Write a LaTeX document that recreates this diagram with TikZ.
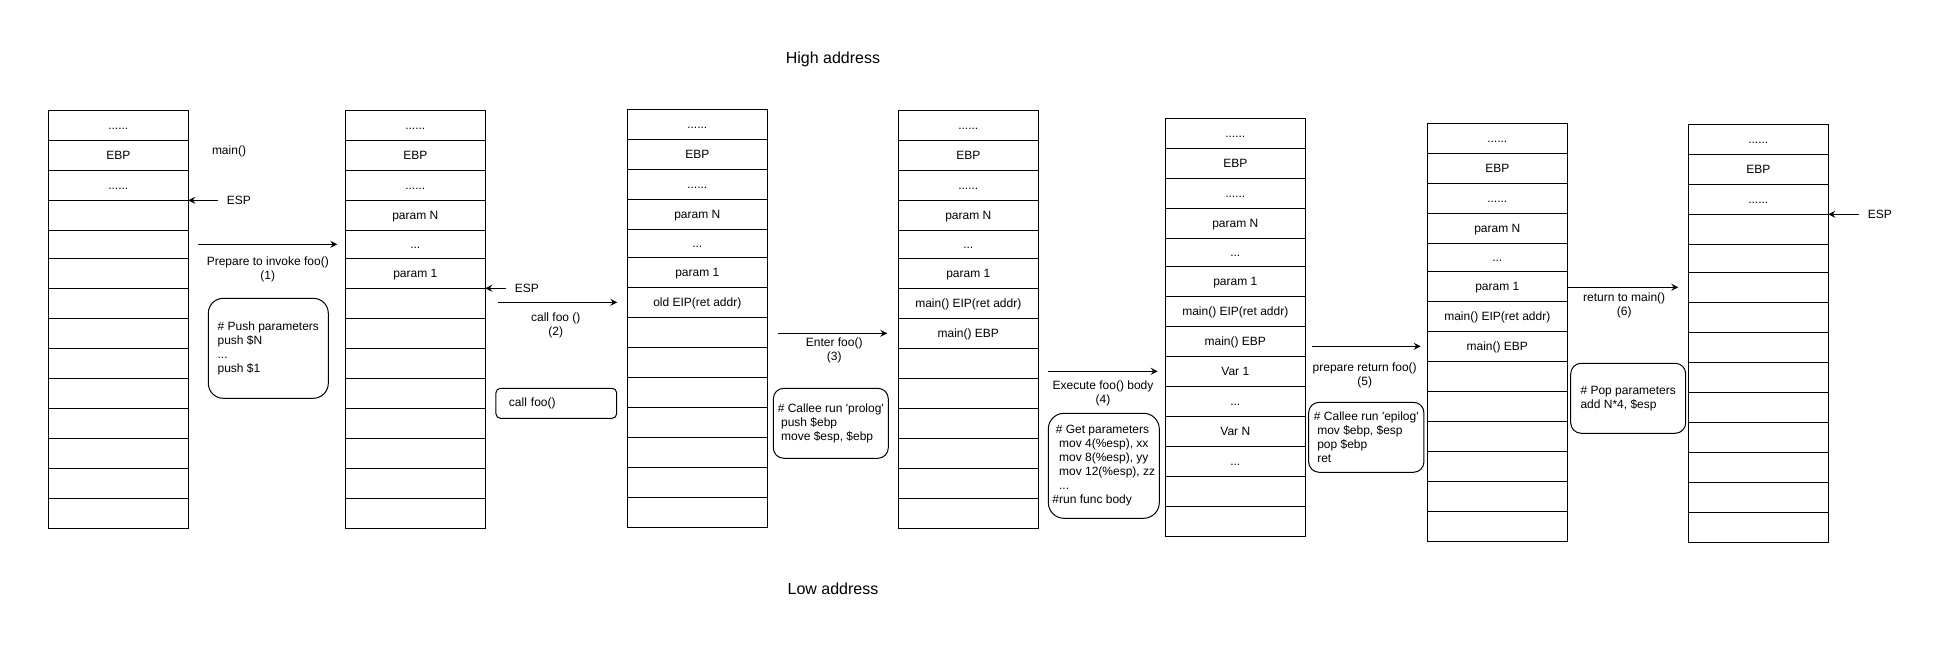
\documentclass[tikz,border=0pt]{standalone}
\usepackage{fontspec}
\setmainfont{Liberation Sans}
\usetikzlibrary{arrows.meta}

\begin{document}
\begin{tikzpicture}[x=1pt, y=-1pt, line width=1pt]
\tikzstyle{every node}+=[inner sep=0pt, font=\fontsize{12}{14}\selectfont]
\tikzstyle{cell}=[draw, outer sep=0pt, minimum width=140pt, anchor=north west]
\tikzstyle{celltext}=[text height=8.6pt, text depth=0pt]
\tikzstyle{note}=[draw, align=left]
\tikzstyle{arr}=[-{Stealth[length=7pt, width=7pt, inset=2.5pt]}]
\useasboundingbox (0,0) rectangle (1947,647);
% stack frames, 14 slots each
\foreach \s/\x/\y in {1/48.3/110.3, 2/345.3/110.3, 3/627.3/109.3, 4/898.3/110.3,
                      5/1165.3/118.3, 6/1427.3/123.3, 7/1688.3/124.3} {
  \foreach \r/\o/\h in {1/0/30, 2/30/30, 3/60/30, 4/90/30, 5/120/28, 6/148/30, 7/178/30,
                        8/208/30, 9/238/30, 10/268/30, 11/298/30, 12/328/30, 13/358/30, 14/388/30} {
    \node [cell, minimum height=\h pt] (c\s-\r) at (\x,{\y+\o}) {};
  }
}
% slot contents
\foreach \s in {1,...,7} {
  \node [celltext] (t\s-1) at (c\s-1) {......};
  \node [celltext] (t\s-2) at (c\s-2) {EBP};
  \node [celltext] (t\s-3) at (c\s-3) {......};
}
\foreach \s in {2,...,6} {
  \node [celltext] (t\s-4) at (c\s-4) {param N};
  \node [celltext] (t\s-5) at (c\s-5) {...};
  \node [celltext] (t\s-6) at (c\s-6) {param 1};
}
\node [celltext] (t3-7) at (c3-7) {old EIP(ret addr)};
\foreach \s in {4,5,6} {
  \node [celltext] (t\s-7) at (c\s-7) {main() EIP(ret addr)};
  \node [celltext] (t\s-8) at (c\s-8) {main() EBP};
}
\node [celltext] (t5-9) at (c5-9) {Var 1};
\node [celltext] (t5-10) at (c5-10) {...};
\node [celltext] (t5-11) at (c5-11) {Var N};
\node [celltext] (t5-12) at (c5-12) {...};
% high / low
\node [anchor=base, font=\fontsize{16}{19}\selectfont] (high) at (833,63.3) {High address};
\node [anchor=base, font=\fontsize{16}{19}\selectfont] (low) at (833,594.3) {Low address};
\node [anchor=base] (mainlbl) at (229,155) {main()};
% stack pointers
\node [celltext, anchor=west, inner xsep=8pt] (esp1) at ([xshift=30pt]c1-3.south east) {ESP};
\draw [arr] (esp1.west) -- (c1-3.south east);
\node [celltext, anchor=west, inner xsep=8pt] (esp2) at ([xshift=21pt]c2-6.south east) {ESP};
\draw [arr] (esp2.west) -- (c2-6.south east);
\node [celltext, anchor=west, inner xsep=8pt] (esp7) at ([xshift=31pt]c7-3.south east) {ESP};
\draw [arr] (esp7.west) -- (c7-3.south east);
% steps
\draw [arr] (c1-5.east) ++(10,0) -- ([xshift=-8pt]c2-5.west);
\node [align=center] (step1) at (267.8,269.2) {Prepare to invoke foo()\\(1)};
\draw [arr] (c2-7.east |- c3-7.west) ++(13,0) -- ([xshift=-10pt]c3-7.west);
\node [align=center] (step2) at (555.8,324.9) {call foo ()\\(2)};
\draw [arr] (c3-8.east |- c4-8.west) ++(11,0) -- ([xshift=-11pt]c4-8.west);
\node [align=center] (step3) at (834.2,350) {Enter foo()\\(3)};
\draw [arr] (c4-9.east |- c5-9.west) ++(10,0) -- ([xshift=-7.6pt]c5-9.west);
\node [align=center] (step4) at (1103,393.4) {Execute foo() body\\(4)};
\draw [arr] (c5-8.east |- c6-8.west) ++(6.4,0) -- ([xshift=-6.6pt]c6-8.west);
\node [align=center] (step5) at (1364.7,375) {prepare return foo()\\(5)};
\draw [arr] (c6-6.east |- c7-6.west) -- ([xshift=-10pt]c7-6.west);
\node [align=center] (step6) at (1624.2,304.9) {return to main()\\(6)};
% code notes
\node [note, rounded corners=15pt, minimum width=120pt, minimum height=100pt] (note1) at (268.3,348.3)
  {\# Push parameters\\push \$N\\...\\push \$1};
\node [note, rounded corners=4.5pt, minimum width=120.7pt, minimum height=30pt, text width=94.7pt] (note2) at (556.3,403.3)
  {call foo()};
\node [note, rounded corners=10.5pt, minimum width=115pt, minimum height=70pt] (note3) at (830.8,423.3)
  {\# Callee run \textquotesingle prolog\textquotesingle\\\hspace*{3.3pt}push \$ebp\\\hspace*{3.3pt}move \$esp, \$ebp};
\node [note, rounded corners=15.75pt, minimum width=111pt, minimum height=105pt] (note4) at (1103.8,465.8)
  {\hspace*{3.3pt}\# Get parameters\\\hspace*{6.6pt}mov 4(\%esp), xx\\\hspace*{6.6pt}mov 8(\%esp), yy\\\hspace*{6.6pt}mov 12(\%esp), zz\\\hspace*{6.6pt}...\\\#run func body};
\node [note, rounded corners=10.5pt, minimum width=115.3pt, minimum height=70pt] (note5) at (1366.3,437.3)
  {\# Callee run \textquotesingle epilog\textquotesingle\\\hspace*{3.3pt}mov \$ebp, \$esp\\\hspace*{3.3pt}pop \$ebp\\\hspace*{3.3pt}ret};
\node [note, rounded corners=10.5pt, minimum width=115pt, minimum height=70pt] (note6) at (1628.2,398.3)
  {\# Pop parameters\\add N*4, \$esp};
\end{tikzpicture}
\end{document}
